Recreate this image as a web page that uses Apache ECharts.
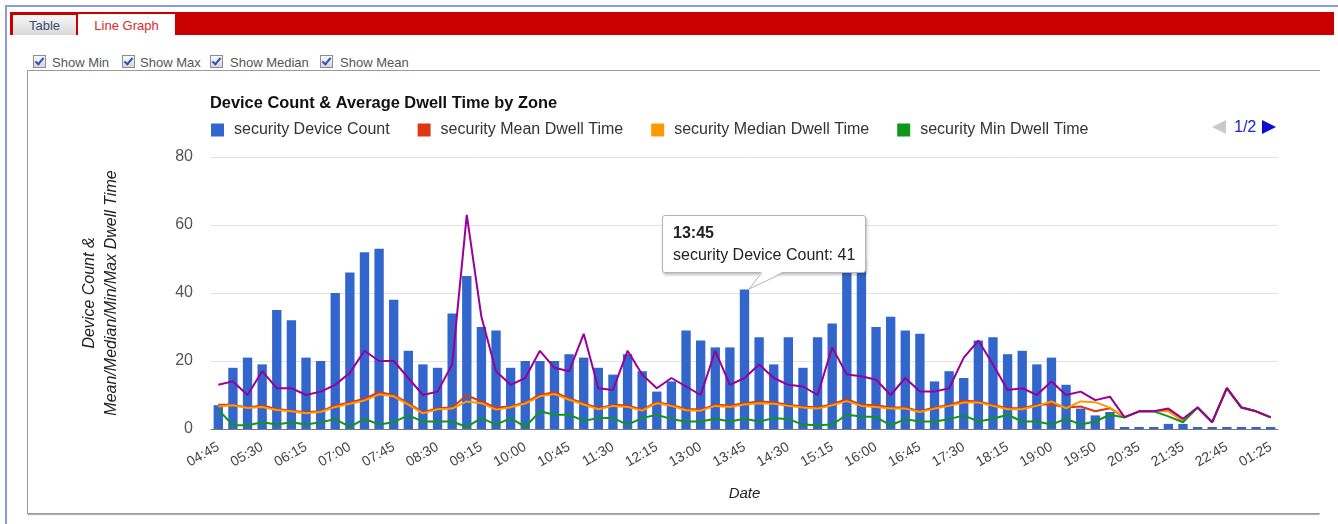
<!DOCTYPE html>
<html lang="en">

<head>
    <meta charset="UTF-8">
    <title>Device Count &amp; Average Dwell Time by Zone</title>
    <script src="https://cdn.jsdelivr.net/npm/echarts@6/dist/echarts.min.js"></script>
    <style>
        body { margin: 0; background: #fff; font-family: 'Liberation Sans', Arial, sans-serif; }
        #frame { position: absolute; left: 5px; top: 5px; right: 0; bottom: 0; border-top: 2px solid #8f9bd6; border-left: 2px solid #8f9bd6; }
        #tabbar { position: absolute; left: 10px; top: 12px; width: 1324px; height: 23px; background: #c80000; }
        .tab { position: absolute; font-size: 13px; text-align: center; }
        #tab-table { left: 13px; top: 15px; width: 63px; height: 20px; line-height: 21px; background: linear-gradient(#f7f7f7, #d9d9d9); color: #3d4c70; }
        #tab-line { left: 78px; top: 14px; width: 97px; height: 24px; line-height: 24px; background: #fff; color: #e02828; }
        .opt { position: absolute; top: 56px; font-size: 13px; color: #555; line-height: 13px; }
        .chk { position: absolute; top: 55px; width: 11px; height: 11px; border: 1px solid #8d8d8d; background: linear-gradient(#fafafa, #d6d6d6); }
        .chk::after { content: ''; position: absolute; left: 3px; top: 0px; width: 3px; height: 7px; border-right: 2px solid #2b52c4; border-bottom: 2px solid #2b52c4; transform: rotate(40deg); }
        #chartbox { position: absolute; left: 27px; top: 70px; width: 1292px; height: 442px; border: 1px solid #9a9a9a; border-right: none; box-shadow: 0 2px 1px -1px rgba(0,0,0,0.3); }
        #pager { position: absolute; left: 1212px; top: 120px; height: 16px; }
        #pager .prev { position: absolute; left: 0; top: 0; width: 0; height: 0; border-top: 7px solid transparent; border-bottom: 7px solid transparent; border-right: 14px solid #cacaca; }
        #pager .num { position: absolute; left: 22px; top: -1px; font-size: 16px; line-height: 16px; color: #2323c8; }
        #pager .next { position: absolute; left: 50px; top: 0; width: 0; height: 0; border-top: 7px solid transparent; border-bottom: 7px solid transparent; border-left: 14px solid #0d0dd0; }
        #main { position: absolute; left: 0; top: 0; width: 1338px; height: 524px; }
    </style>
</head>

<body>
<div id="frame"></div>
<div id="tabbar"></div>
<div class="tab" id="tab-table">Table</div>
<div class="tab" id="tab-line">Line Graph</div>
<span class="chk" style="left:33px"></span><span class="opt" style="left:52px">Show Min</span>
<span class="chk" style="left:122px"></span><span class="opt" style="left:140px">Show Max</span>
<span class="chk" style="left:210px"></span><span class="opt" style="left:230px">Show Median</span>
<span class="chk" style="left:320px"></span><span class="opt" style="left:340px">Show Mean</span>
<div id="chartbox"></div>
<div id="pager"><span class="prev"></span><span class="num">1/2</span><span class="next"></span></div>
<div id="main"></div>
<script>
    const categories = [
        '04:45', '05:00', '05:15', '05:30', '05:45', '06:00', '06:15', '06:30', '06:45', '07:00',
        '07:15', '07:30', '07:45', '08:00', '08:15', '08:30', '08:45', '09:00', '09:15', '09:30',
        '09:45', '10:00', '10:15', '10:30', '10:45', '11:00', '11:15', '11:30', '11:45', '12:00',
        '12:15', '12:30', '12:45', '13:00', '13:15', '13:30', '13:45', '14:00', '14:15', '14:30',
        '14:45', '15:00', '15:15', '15:30', '15:45', '16:00', '16:15', '16:30', '16:45', '17:00',
        '17:15', '17:30', '17:45', '18:00', '18:15', '18:30', '18:45', '19:00', '19:15', '19:35',
        '19:50', '20:05', '20:20', '20:35', '20:55', '21:15', '21:35', '21:55', '22:20', '22:45',
        '23:15', '00:35', '01:25'
    ]
    const deviceCount = [
        7, 18, 21, 19, 35, 32, 21, 20, 40, 46,
        52, 53, 38, 23, 19, 18, 34, 45, 30, 29,
        18, 20, 20, 20, 22, 21, 18, 16, 22, 17,
        11, 14, 29, 26, 24, 24, 41, 27, 19, 27,
        18, 27, 31, 52, 50, 30, 33, 29, 28, 14,
        17, 15, 26, 27, 22, 23, 19, 21, 13, 6,
        4, 5, 0, 0, 0, 1.5, 1.5, 0, 0, 0,
        0, 0, 0
    ]
    const meanDwell = [
        7.1, 7.1, 6.3, 6.9, 5.9, 5.4, 4.9, 5.2, 6.9, 7.8,
        8.9, 10.8, 10, 7.6, 4.9, 6.1, 6.3, 9.9, 8.1, 6.3,
        6.6, 7.8, 10, 10.8, 9, 7.6, 6.1, 7.1, 6.9, 5.7,
        7.9, 7.1, 5.9, 5.7, 7.1, 6.9, 7.6, 8.1, 7.9, 7.1,
        6.6, 6.3, 7.3, 8.8, 7.1, 7, 6.3, 6.3, 5.2, 6.3,
        7.1, 8.3, 8.1, 7.1, 6.1, 6.1, 7.1, 7.3, 6.3, 6.6,
        5.2, 6.1, 3.4, 5.2, 5.2, 5.5, 2.4, 6.3, 2, 12,
        6.3, 5.2, 3.4
    ]
    const medianDwell = [
        6.6, 7, 6.2, 6.5, 5.6, 5.2, 4.6, 5, 6.5, 7.4,
        8.4, 10.2, 9.6, 7.2, 4.6, 5.8, 6, 8.1, 7.6, 5.7,
        6.4, 7.5, 9.6, 10.3, 8.6, 7.2, 5.8, 6.8, 6.5, 5.4,
        7.6, 6.8, 5.5, 5.4, 6.8, 6.5, 7.2, 7.6, 7.4, 6.8,
        6.3, 6, 7, 8.2, 6.8, 6.5, 6, 6, 5, 6,
        6.8, 7.8, 7.8, 6.8, 5.8, 5.8, 6.8, 8.1, 6.1, 8.1,
        7.9, 6.3, 3.4, 5.2, 5.2, 5.2, 2.4, 6.3, 2, 12,
        6.3, 5.2, 3.4
    ]
    const minDwell = [
        5.7, 1.1, 1.1, 2, 1.3, 2, 1.3, 2, 2.9, 0.6,
        3, 1.3, 2, 4, 2.2, 2.2, 2.2, 0.6, 3.2, 1.3,
        3.2, 0.6, 5.2, 4.2, 4.2, 2.4, 3.2, 3.2, 1.3, 3.2,
        4.2, 2.9, 2.2, 2.2, 3, 2.2, 3, 2.2, 3.2, 2.9,
        1.3, 1.1, 1.3, 4.2, 3.7, 3.5, 1.1, 2.9, 2.2, 2.2,
        2.9, 4, 2.2, 3, 4.2, 2.2, 2.2, 1.3, 3, 1.3,
        2.2, 4.2, 3.4, 5.2, 5.2, 3.7, 2, 6.3, 2, 12,
        6.3, 5.2, 3.4
    ]
    const maxDwell = [
        13, 14, 10, 17, 12, 12, 10, 11, 13, 16.5,
        23, 20, 20, 15, 10, 11, 19, 63, 33, 17,
        13, 15, 23, 18, 17, 28, 12, 11.5, 23, 16,
        12, 15, 12.5, 10, 23, 13, 15, 19, 15, 13,
        12.5, 10, 24, 16, 15.5, 14.5, 10, 15, 11, 11,
        12, 21, 26, 19, 11.5, 12, 10, 14, 10, 11,
        8.5, 9.5, 3.5, 5.2, 5.2, 6, 3, 6.3, 2, 12,
        6.3, 5.2, 3.4
    ]
    const seriesNames = [
        'security Device Count',
        'security Mean Dwell Time',
        'security Median Dwell Time',
        'security Min Dwell Time',
        'security Max Dwell Time'
    ]
    const colors = ['#3366cc', '#dc3912', '#ff9900', '#109618', '#990099']
    const tipIndex = 36

    const font = "'Liberation Sans', Arial, sans-serif"
    const tail = '<svg width="40" height="20" style="position:absolute;left:84px;top:100%;overflow:visible">' +
        '<polygon points="15,-1 37,-1 2,17" fill="#fff"/>' +
        '<polyline points="15,0.5 2,17 37,0.5" fill="none" stroke="#b5b5b5" stroke-width="1"/></svg>'

    function line(i, data) {
        return {
            name: seriesNames[i],
            type: 'line',
            data: data,
            showSymbol: false,
            lineStyle: { width: 2 },
            z: 3 + i
        }
    }

    const chart = echarts.init(document.getElementById('main'))
    chart.setOption({
        color: colors,
        animation: false,
        textStyle: { fontFamily: font },
        title: {
            text: 'Device Count & Average Dwell Time by Zone',
            left: 210, top: 95, padding: 0,
            textStyle: { fontSize: 16.4, fontWeight: 'bold', color: '#111', fontFamily: font }
        },
        legend: {
            data: seriesNames.slice(0, 4),
            left: 211, top: 122, padding: 0,
            icon: 'rect', itemWidth: 13, itemHeight: 13, itemGap: 28,
            textStyle: { fontSize: 16, color: '#333', padding: [0, 0, 0, 5], fontFamily: font }
        },
        tooltip: {
            trigger: 'item',
            triggerOn: 'none',
            alwaysShowContent: true,
            transitionDuration: 0,
            backgroundColor: '#fff',
            borderColor: '#b5b5b5',
            borderWidth: 1,
            padding: [6, 10],
            textStyle: { fontSize: 16, color: '#222', fontFamily: font },
            extraCssText: 'box-shadow: 1px 2px 3px rgba(0,0,0,0.25); border-radius: 3px;',
            position: function (point, params, dom, rect) {
                const cx = rect ? rect.x + rect.width / 2 : point[0]
                const top = rect ? rect.y : point[1]
                return [cx - 82, top - 75]
            },
            formatter: function (p) {
                return '<div style="line-height:22px"><b>' + categories[p.dataIndex] + '</b></div>' +
                    '<div style="line-height:22px">' + p.seriesName + ': ' + p.value + '</div>' + tail
            }
        },
        grid: { left: 211, right: 60, top: 157, bottom: 95 },
        xAxis: {
            type: 'category',
            data: categories,
            name: 'Date',
            nameLocation: 'middle',
            nameGap: 57,
            nameTextStyle: { fontSize: 15, fontStyle: 'italic', color: '#222' },
            axisLine: { lineStyle: { color: '#777' } },
            axisTick: { show: false },
            axisLabel: { interval: 2, rotate: 30, fontSize: 14, color: '#444', margin: 17 }
        },
        yAxis: {
            type: 'value',
            min: 0, max: 80, interval: 20,
            name: 'Device Count &\nMean/Median/Min/Max Dwell Time',
            nameLocation: 'middle',
            nameGap: 88,
            nameTextStyle: { fontSize: 16, fontStyle: 'italic', color: '#222', lineHeight: 22 },
            axisLine: { show: false },
            axisTick: { show: false },
            axisLabel: { fontSize: 16, color: '#555', margin: 18 },
            splitLine: { lineStyle: { color: '#e2e2e2' } }
        },
        series: [
            {
                name: seriesNames[0],
                type: 'bar',
                data: deviceCount,
                barCategoryGap: '36%',
                barMinHeight: 2,
                z: 2
            },
            line(1, meanDwell),
            line(2, medianDwell),
            line(3, minDwell),
            line(4, maxDwell)
        ]
    })
    chart.dispatchAction({ type: 'showTip', seriesIndex: 0, dataIndex: tipIndex })
</script>
</body>

</html>
